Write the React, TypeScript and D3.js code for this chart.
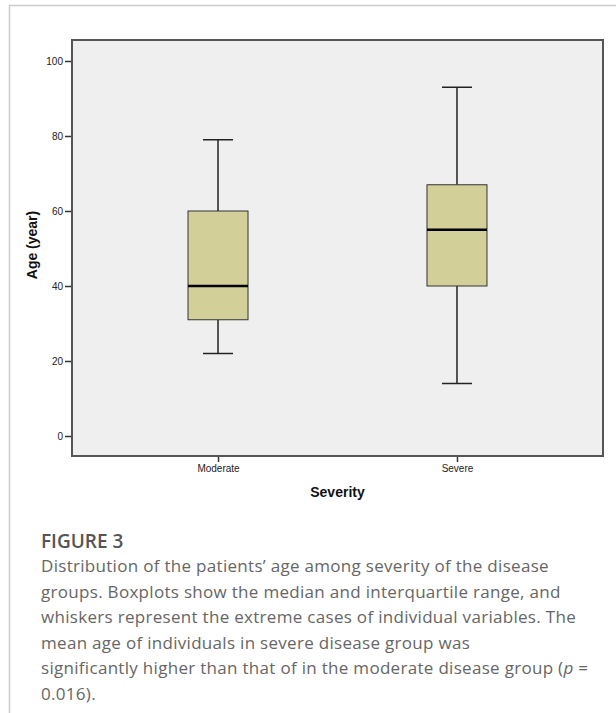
import React, { useEffect, useRef } from "react";
import { axisBottom, axisLeft, scaleLinear, scalePoint, select } from "d3";

const categories = ["Moderate", "Severe"];
const whiskerLow = [22, 14];
const q1 = [31, 40];
const medians = [40, 55];
const q3 = [60, 67];
const whiskerHigh = [79, 93];
const yTicks = [0, 20, 40, 60, 80, 100];

const captionTitle = "FIGURE 3";
const captionLines = [
  "Distribution of the patients\u2019 age among severity of the disease",
  "groups. Boxplots show the median and interquartile range, and",
  "whiskers represent the extreme cases of individual variables. The",
  "mean age of individuals in severe disease group was",
  "significantly higher than that of in the moderate disease group (",
  "0.016).",
];

const W = 616;
const H = 713;
const plot = { left: 72, top: 40, right: 603, bottom: 456 };

function AxisLeft({ scale, transform }) {
  const ref = useRef(null);
  useEffect(() => {
    if (ref.current) {
      const g = select(ref.current);
      g.call(axisLeft(scale).tickValues(yTicks).tickSize(6).tickPadding(2));
      g.select(".domain").remove();
      g.selectAll("line").attr("stroke", "#333").attr("stroke-width", 1.5);
      g.selectAll("text")
        .attr("fill", "#222")
        .style("font-family", "'Liberation Sans', Arial, sans-serif")
        .style("font-size", "10px");
    }
  }, [scale]);
  return <g ref={ref} transform={transform} />;
}

function AxisBottom({ scale, transform }) {
  const ref = useRef(null);
  useEffect(() => {
    if (ref.current) {
      const g = select(ref.current);
      g.call(axisBottom(scale).tickSize(5).tickPadding(3));
      g.select(".domain").remove();
      g.selectAll("line").attr("stroke", "#333").attr("stroke-width", 1.5);
      g.selectAll("text")
        .attr("fill", "#222")
        .style("font-family", "'Liberation Sans', Arial, sans-serif")
        .style("font-size", "10px");
    }
  }, [scale]);
  return <g ref={ref} transform={transform} />;
}

function Boxes({ scaleX, scaleY }) {
  const boxW = 60;
  const capW = 30;
  return (
    <>
      {categories.map((c, i) => {
        const cx = scaleX(c);
        return (
          <g key={c}>
            <line x1={cx} x2={cx} y1={scaleY(whiskerHigh[i])} y2={scaleY(q3[i])} stroke="#222" strokeWidth={1.5} />
            <line x1={cx} x2={cx} y1={scaleY(q1[i])} y2={scaleY(whiskerLow[i])} stroke="#222" strokeWidth={1.5} />
            <line x1={cx - capW / 2} x2={cx + capW / 2} y1={scaleY(whiskerHigh[i])} y2={scaleY(whiskerHigh[i])} stroke="#222" strokeWidth={1.5} />
            <line x1={cx - capW / 2} x2={cx + capW / 2} y1={scaleY(whiskerLow[i])} y2={scaleY(whiskerLow[i])} stroke="#222" strokeWidth={1.5} />
            <rect
              x={cx - boxW / 2}
              y={scaleY(q3[i])}
              width={boxW}
              height={scaleY(q1[i]) - scaleY(q3[i])}
              fill="#d3cf98"
              stroke="#333"
              strokeWidth={1}
            />
            <line x1={cx - boxW / 2} x2={cx + boxW / 2} y1={scaleY(medians[i])} y2={scaleY(medians[i])} stroke="#000" strokeWidth={2.5} />
          </g>
        );
      })}
    </>
  );
}

export default function App() {
  const scaleY = scaleLinear().domain([0, 100]).range([436, 61]);
  const scaleX = scalePoint().domain(categories).range([plot.left, plot.right]).padding(0.611);
  const midY = (plot.top + plot.bottom) / 2;
  const capX = 41;

  return (
    <svg width={W} height={H} style={{ position: "absolute", left: 0, top: 0 }}>
      <rect x={0} y={0} width={W} height={H} fill="#fff" />
      <line x1={9} x2={W} y1={5.5} y2={5.5} stroke="#ccc" strokeWidth={1.5} />
      <line x1={9.5} x2={9.5} y1={5} y2={H} stroke="#ccc" strokeWidth={1.5} />

      <rect
        x={plot.left}
        y={plot.top}
        width={plot.right - plot.left}
        height={plot.bottom - plot.top}
        fill="#efefef"
        stroke="#555"
        strokeWidth={2}
      />
      <AxisLeft scale={scaleY} transform={`translate(${plot.left - 1}, 0)`} />
      <AxisBottom scale={scaleX} transform={`translate(0, ${plot.bottom + 1})`} />
      <Boxes scaleX={scaleX} scaleY={scaleY} />

      <text
        transform={`translate(37, ${midY - 3}) rotate(-90)`}
        textAnchor="middle"
        fontFamily="'Liberation Sans', Arial, sans-serif"
        fontWeight="bold"
        fontSize={14}
        fill="#111"
      >
        Age (year)
      </text>
      <text
        x={(plot.left + plot.right) / 2}
        y={497}
        textAnchor="middle"
        fontFamily="'Liberation Sans', Arial, sans-serif"
        fontWeight="bold"
        fontSize={14}
        fill="#111"
      >
        Severity
      </text>

      <text x={capX} y={548} fontFamily="'Open Sans', sans-serif" fontWeight={600} fontSize={19} fill="#555">
        {captionTitle}
      </text>
      {captionLines.map((line, i) => (
        <text
          key={i}
          x={capX}
          y={572 + i * 25.5}
          fontFamily="'Open Sans', sans-serif"
          fontSize={17}
          letterSpacing={0.3}
          fill="#666"
        >
          {line}
          {i === 4 ? (
            <>
              <tspan fontStyle="italic">p</tspan> =
            </>
          ) : null}
        </text>
      ))}
    </svg>
  );
}
